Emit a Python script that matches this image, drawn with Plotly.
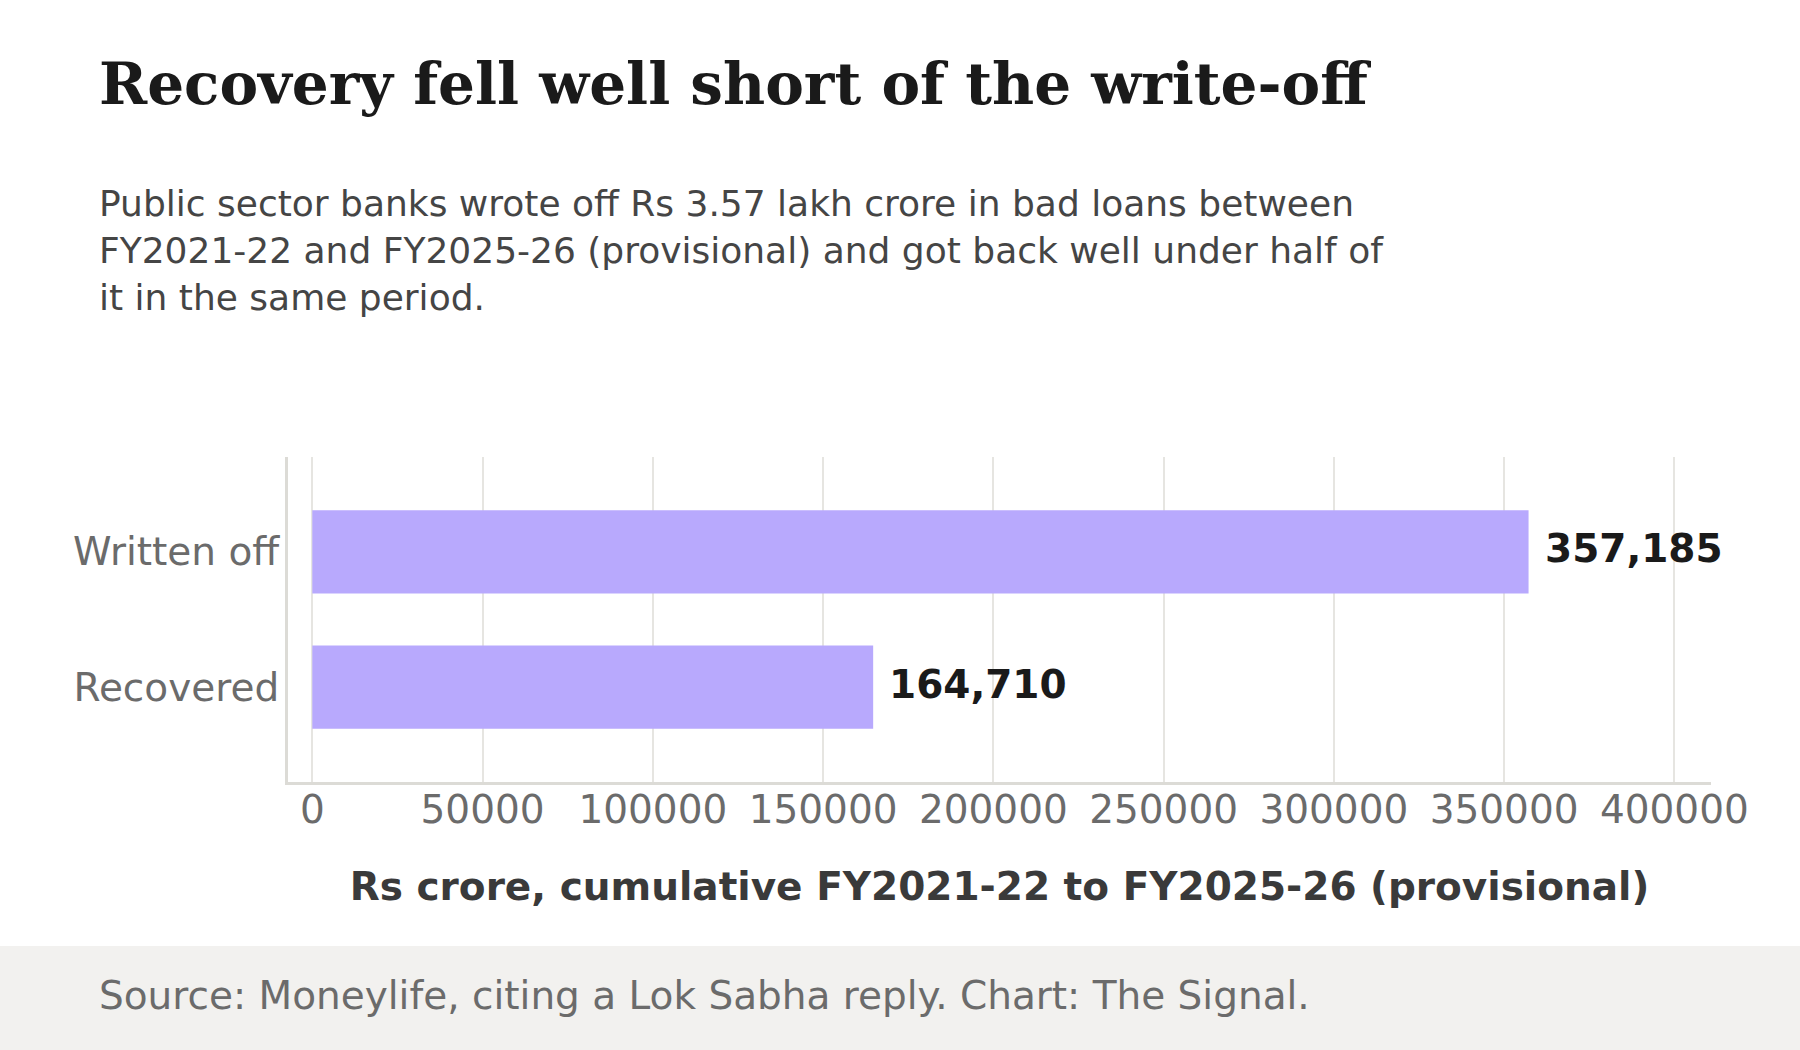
import plotly.graph_objects as go

# data
categories = ["Written off", "Recovered"]
values = [357185, 164710]
x_ticks = [0, 50000, 100000, 150000, 200000, 250000, 300000, 350000, 400000]

title = "Recovery fell well short of the write-off"
subtitle = ("Public sector banks wrote off Rs 3.57 lakh crore in bad loans between<br>"
            "FY2021-22 and FY2025-26 (provisional) and got back well under half of<br>"
            "it in the same period.")
x_title = "Rs crore, cumulative FY2021-22 to FY2025-26 (provisional)"
source = "Source: Moneylife, citing a Lok Sabha reply. Chart: The Signal."

W, H = 1800, 1050
ML, MR, MT, MB = 288, 89, 457, 268
PW = W - ML - MR
PH = H - MT - MB


def px_x(x):
    return (x - ML) / PW


def px_y(y):
    return (H - MB - y) / PH


SANS = "DejaVu Sans"
BAR = "#b8a9fd"
GRID = "#e6e5e1"
AXIS = "#dcdbd6"
TEXT_X = 97

fig = go.Figure(go.Bar(
    x=values, y=categories, orientation="h",
    marker=dict(color=BAR, line=dict(width=0)),
    hoverinfo="x+y",
))

# value labels just past the bar ends
for c, v in zip(categories, values):
    fig.add_annotation(x=v, y=c, xref="x", yref="y", text=f"{v:,}", showarrow=False,
                       xanchor="left", yanchor="middle", xshift=14, yshift=3,
                       font=dict(family=SANS, size=39, color="#1a1a1a", weight="bold"))

fig.add_annotation(x=px_x(TEXT_X), y=px_y(84), xref="paper", yref="paper", text=title,
                   showarrow=False, xanchor="left", yanchor="middle",
                   font=dict(family="DejaVu Serif", size=58, color="#1a1a1a", weight="bold"))
fig.add_annotation(x=px_x(TEXT_X), y=px_y(250), xref="paper", yref="paper", text=subtitle,
                   showarrow=False, xanchor="left", yanchor="middle", align="left",
                   font=dict(family=SANS, size=36, color="#454545"))
fig.add_annotation(x=px_x(TEXT_X), y=px_y(995), xref="paper", yref="paper", text=source,
                   showarrow=False, xanchor="left", yanchor="middle",
                   font=dict(family=SANS, size=39, color="#6b6b6b"))

# grey footer band
fig.add_shape(type="rect", xref="paper", yref="paper", x0=px_x(-10), x1=px_x(W + 10),
              y0=px_y(946), y1=px_y(H + 10), fillcolor="#f2f1ef", line=dict(width=0),
              layer="below")

fig.update_layout(
    width=W, height=H,
    margin=dict(l=ML, r=MR, t=MT, b=MB, pad=0),
    paper_bgcolor="white", plot_bgcolor="white",
    bargap=0.385,
    showlegend=False,
    font=dict(family=SANS),
)
fig.update_xaxes(
    range=[-0.02 * values[0], 1.15 * values[0]],
    tickvals=x_ticks, tickformat="d",
    showgrid=True, gridcolor=GRID, gridwidth=2, zeroline=False,
    showline=True, linecolor=AXIS, linewidth=3,
    ticks="", ticklabelstandoff=-9,
    tickfont=dict(family=SANS, size=39, color="#6b6b6b"),
    title=dict(text=x_title, standoff=42,
               font=dict(family=SANS, size=39, color="#3a3a3a", weight="bold")),
)
fig.update_yaxes(
    range=[1.7, -0.7],
    showgrid=False, zeroline=False,
    showline=True, linecolor=AXIS, linewidth=3,
    ticks="", ticklabelstandoff=-2,
    tickfont=dict(family=SANS, size=39, color="#6b6b6b"),
)

fig.write_html("out.html", config={"displayModeBar": False},
               post_script="document.body.style.margin='0';")
